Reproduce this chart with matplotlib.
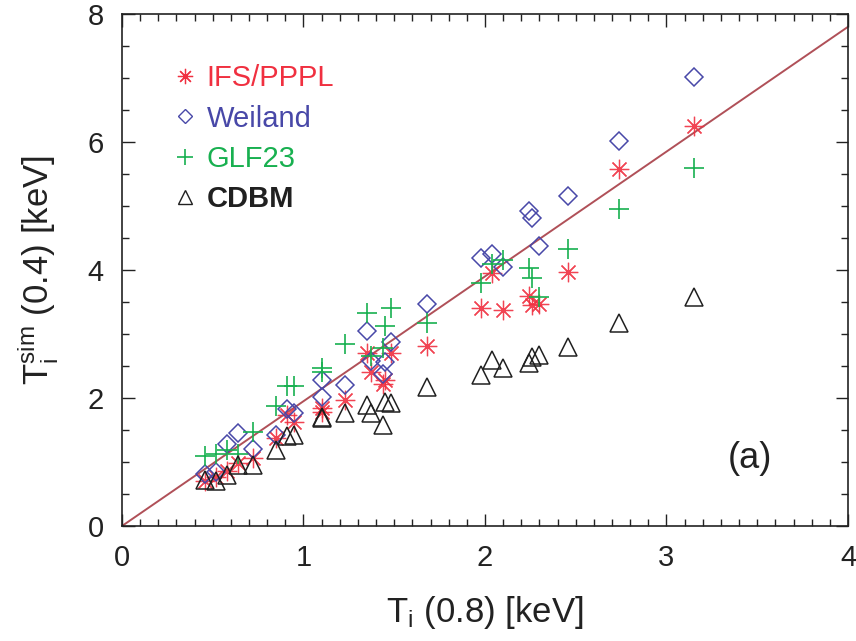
import matplotlib
matplotlib.use("Agg")
import matplotlib.pyplot as plt
from matplotlib.ticker import MultipleLocator
from matplotlib.lines import Line2D

plt.rcParams['font.family'] = ['Liberation Sans', 'DejaVu Sans']
plt.rcParams['mathtext.fontset'] = 'custom'
plt.rcParams['mathtext.rm'] = 'Liberation Sans'
plt.rcParams['mathtext.it'] = 'Liberation Sans:italic'

# Measured ion temperature at rho = 0.8 [keV], one entry per discharge
ti_08 = [0.46, 0.52, 0.58, 0.64, 0.72, 0.85, 0.91, 0.95, 1.10, 1.10,
         1.23, 1.35, 1.37, 1.44, 1.45, 1.48, 1.68, 1.98, 2.04, 2.10,
         2.24, 2.26, 2.30, 2.46, 2.74, 3.15]

# Simulated ion temperature at rho = 0.4 [keV] for each transport model
ifs_pppl = [0.70, 0.77, 0.86, 0.98, 1.06, 1.38, 1.73, 1.62, 1.84, 1.78,
            1.97, 2.70, 2.41, 2.22, 2.28, 2.70, 2.81, 3.41, 3.95, 3.38,
            3.59, 3.45, 3.47, 3.97, 5.58, 6.25]
weiland = [0.82, 0.85, 1.28, 1.46, 1.21, 1.42, 1.83, 1.77, 2.28, 2.02,
           2.21, 3.05, 2.58, 2.37, 2.56, 2.87, 3.47, 4.19, 4.25, 4.05,
           4.92, 4.81, 4.38, 5.16, 6.02, 7.02]
glf23 = [1.09, 1.12, 1.18, 1.12, 1.47, 1.88, 2.19, 2.19, 2.47, 2.40,
         2.84, 3.33, 2.66, 2.78, 3.12, 3.41, 3.17, 3.79, 4.10, 4.16,
         4.03, 3.87, 3.58, 4.33, 4.95, 5.59]
cdbm = [0.72, 0.70, 0.80, 0.96, 0.95, 1.19, 1.40, 1.42, 1.71, 1.68,
        1.76, 1.89, 1.77, 1.58, 1.94, 1.92, 2.17, 2.36, 2.59, 2.47,
        2.55, 2.64, 2.67, 2.80, 3.17, 3.58]

# Reference line T_sim = slope * T_exp
line_x = [0.0, 4.0]
slope = 1.95

c_ifs = '#f03040'
c_wei = '#4848a8'
c_glf = '#18b050'
c_cdbm = '#202020'
c_line = '#b05058'

fig = plt.figure(figsize=(8.56, 6.41), dpi=100)
ax = fig.add_axes([122/856, 1 - 526/641, (848 - 122)/856, (526 - 14)/641])

ax.plot(line_x, [slope * v for v in line_x], color=c_line, lw=1.4, zorder=1)

asterisk = (8, 2, 0)
ax.plot(ti_08, ifs_pppl, ls='none', marker=asterisk, ms=14, mew=0.9,
        color=c_ifs, alpha=0.9, zorder=3)
ax.plot(ti_08, weiland, ls='none', marker='D', ms=9.5, mew=1.1,
        mfc='none', mec=c_wei, zorder=3)
ax.plot(ti_08, glf23, ls='none', marker='+', ms=15, mew=1.2,
        color=c_glf, zorder=3)
ax.plot(ti_08, cdbm, ls='none', marker='^', ms=12.5, mew=1.1,
        mfc='none', mec=c_cdbm, zorder=3)

ax.set_xlim(0, 4)
ax.set_ylim(0, 8)
ax.xaxis.set_major_locator(MultipleLocator(1))
ax.xaxis.set_minor_locator(MultipleLocator(0.1))
ax.yaxis.set_major_locator(MultipleLocator(2))
ax.yaxis.set_minor_locator(MultipleLocator(0.5))
ax.tick_params(which='both', direction='in', top=True, right=True,
               labelsize=21, colors='#222222', width=1.0)
ax.tick_params(which='major', length=9)
ax.tick_params(axis='x', which='major', pad=13)
ax.tick_params(axis='y', which='major', pad=13)
ax.tick_params(which='minor', length=5)
for s in ax.spines.values():
    s.set_linewidth(1.2)
    s.set_color('#222222')

ax.set_xlabel(r'T$_{\rm i}$ (0.8) [keV]', fontsize=25, labelpad=16,
              color='#222222')
ax.set_ylabel(r'T$_{\rm i}^{\rm sim}$ (0.4) [keV]', fontsize=25,
              labelpad=20, color='#222222')

handles = [
    Line2D([], [], ls='none', marker=asterisk, ms=11, mew=0.9, color=c_ifs),
    Line2D([], [], ls='none', marker='D', ms=7, mew=1.0, mfc='none', mec=c_wei),
    Line2D([], [], ls='none', marker='+', ms=12, mew=1.2, color=c_glf),
    Line2D([], [], ls='none', marker='^', ms=10, mew=1.0, mfc='none', mec=c_cdbm),
]
labels = ['IFS/PPPL', 'Weiland', 'GLF23', 'CDBM']
leg = ax.legend(handles, labels, loc='upper left', bbox_to_anchor=(0.05, 0.93),
                frameon=False, fontsize=21, handlelength=0.8,
                handletextpad=0.35, labelspacing=0.42, borderpad=0)
for txt, col in zip(leg.get_texts(), [c_ifs, c_wei, c_glf, c_cdbm]):
    txt.set_color(col)
leg.get_texts()[3].set_fontweight('bold')

ax.text(0.865, 0.132, '(a)', transform=ax.transAxes, fontsize=26,
        ha='center', va='center', color='#222222')

fig.savefig('out.png', dpi=100)
